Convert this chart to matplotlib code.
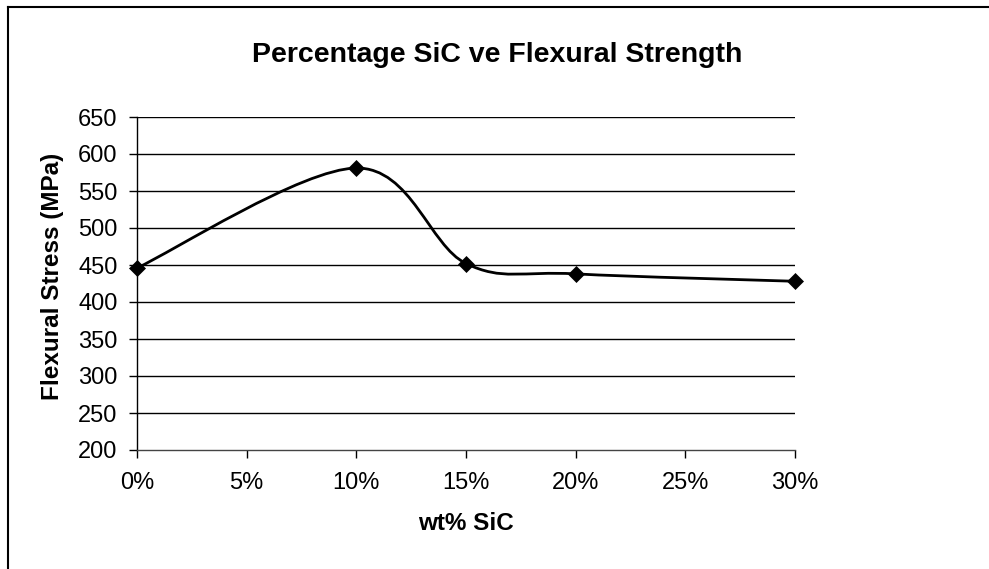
import matplotlib
matplotlib.use("Agg")
import matplotlib.pyplot as plt
from matplotlib.path import Path
from matplotlib.patches import PathPatch
from matplotlib.lines import Line2D
import numpy as np

wt_pct = [0, 10, 15, 20, 30]
flexural_stress = [446, 581, 452, 438, 428]
x_ticks = [0, 5, 10, 15, 20, 25, 30]
x_tick_labels = ["0%", "5%", "10%", "15%", "20%", "25%", "30%"]
y_ticks = [200, 250, 300, 350, 400, 450, 500, 550, 600, 650]

title = "Percentage SiC ve Flexural Strength"
xlabel = "wt% SiC"
ylabel = "Flexural Stress (MPa)"

plt.rcParams['font.family'] = ['Liberation Sans', 'DejaVu Sans']

W, H = 989, 569
fig = plt.figure(figsize=(W / 100, H / 100), dpi=100)
L, R, T, B = 137, 795, 117, 450
ax = fig.add_axes([L / W, 1 - B / H, (R - L) / W, (B - T) / H])

ax.set_xlim(0, 30)
ax.set_ylim(200, 650)

# Excel-like smoothed line (Catmull-Rom style Bezier)
pts = np.column_stack([wt_pct, flexural_stress]).astype(float)
n = len(pts)
verts = [tuple(pts[0])]
codes = [Path.MOVETO]
for i in range(n - 1):
    p0 = pts[i - 1] if i > 0 else pts[i]
    p1 = pts[i]
    p2 = pts[i + 1]
    p3 = pts[i + 2] if i + 2 < n else pts[i + 1]
    c1 = p1 + (p2 - p0) / 6.0
    c2 = p2 - (p3 - p1) / 6.0
    verts += [tuple(c1), tuple(c2), tuple(p2)]
    codes += [Path.CURVE4] * 3
patch = PathPatch(Path(verts, codes), facecolor="none", edgecolor="black",
                  lw=2.0, zorder=3, clip_on=False)
ax.add_patch(patch)
ax.plot(wt_pct, flexural_stress, linestyle="none", marker="D", ms=8,
        mew=0.5, color="black", zorder=4, clip_on=False)

for yv in y_ticks[1:]:
    ax.axhline(yv, color="black", lw=1.0, zorder=1)

for s in ["top", "right"]:
    ax.spines[s].set_visible(False)
ax.spines["left"].set_linewidth(1.0)
ax.spines["bottom"].set_linewidth(1.0)
ax.spines["bottom"].set_color("#444444")

ax.set_xticks(x_ticks)
ax.set_xticklabels(x_tick_labels)
ax.set_yticks(y_ticks)
ax.tick_params(axis="both", direction="out", length=5.5, width=1.0,
               labelsize=17, colors="black")
ax.tick_params(axis="x", pad=10.5)
ax.tick_params(axis="y", pad=8.5)

fig.text(497 / W, 1 - 55 / H, title, ha="center", va="center",
         fontsize=20.5, fontweight="bold")
fig.text(466 / W, 1 - 524 / H, xlabel, ha="center", va="center",
         fontsize=17.5, fontweight="bold")
fig.text(53 / W, 1 - 276 / H, ylabel, ha="center", va="center",
         fontsize=17.5, fontweight="bold", rotation=90)

# outer chart border (top and left visible)
fig.add_artist(Line2D([8 / W, 8 / W], [0, 1 - 7 / H], transform=fig.transFigure,
                      color="black", lw=1.5))
fig.add_artist(Line2D([8 / W, 1], [1 - 7 / H, 1 - 7 / H], transform=fig.transFigure,
                      color="black", lw=1.5))

fig.savefig("out.png", dpi=100, facecolor="white")
